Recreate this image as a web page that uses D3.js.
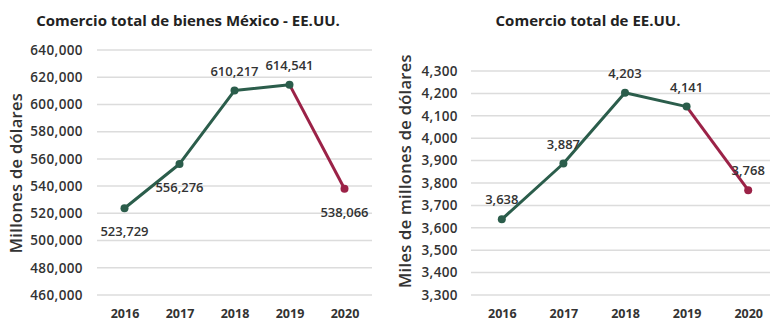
<!DOCTYPE html>
<html>
<head>
<meta charset="utf-8">
<script src="https://cdn.jsdelivr.net/npm/d3@7"></script>
<style>
  html, body { margin: 0; padding: 0; background: #fff; }
  svg { display: block; font-family: "Open Sans", "Noto Sans", sans-serif; }
</style>
</head>
<body>
<svg id="chart" width="770" height="321"></svg>
<script>
// Años y series
const years = ["2016", "2017", "2018", "2019", "2020"];
const mexUsTrade = [523729, 556276, 610217, 614541, 538066];
const usTrade = [3638, 3887, 4203, 4141, 3768];

// Marcas del eje Y
const mexTicks = [460000, 480000, 500000, 520000, 540000, 560000, 580000, 600000, 620000, 640000];
const usTicks = [3300, 3400, 3500, 3600, 3700, 3800, 3900, 4000, 4100, 4200, 4300];

// Posición de cada etiqueta de valor: arriba (-1) o abajo (+1) del punto
const mexLabelSide = [1, 1, -1, -1, 1];
const usLabelSide = [-1, -1, -1, -1, -1];

const GREEN = "#2b5d4b";
const RED = "#9b2247";
const fmt = d3.format(",");

const svg = d3.select("#chart");

function drawPanel(cfg) {
  const g = svg.append("g");
  const x = d3.scalePoint().domain(years).range([cfg.x0, cfg.x1]).padding(0.5);
  const y = d3.scaleLinear().domain(cfg.domain).range([cfg.yBottom, cfg.yTop]);

  // Título
  g.append("text")
    .attr("x", cfg.titleX).attr("y", 26)
    .attr("text-anchor", "middle")
    .attr("font-size", 15).attr("font-weight", 700).attr("fill", "#222")
    .text(cfg.title);

  // Rejilla horizontal
  g.selectAll(".grid").data(cfg.ticks).join("line")
    .attr("x1", cfg.x0).attr("x2", cfg.x1)
    .attr("y1", d => y(d)).attr("y2", d => y(d))
    .attr("stroke", "#dcdcdc").attr("stroke-width", 1.5);

  // Eje Y
  const yAxis = d3.axisLeft(y).tickValues(cfg.ticks).tickFormat(fmt).tickSize(0).tickPadding(0);
  const ya = g.append("g").attr("transform", `translate(${cfg.x0 - cfg.tickGap},0)`).call(yAxis);
  ya.select(".domain").remove();
  ya.selectAll("text")
    .attr("font-size", 13.5).attr("font-weight", 600).attr("fill", "#333")
    .attr("font-family", "'Open Sans', sans-serif").attr("letter-spacing", 0.4);

  // Eje X
  const xAxis = d3.axisBottom(x).tickSize(0).tickPadding(0);
  const xa = g.append("g").attr("transform", `translate(0,${cfg.xAxisY})`).call(xAxis);
  xa.select(".domain").remove();
  xa.selectAll("text")
    .attr("font-size", 12.5).attr("font-weight", 700).attr("fill", "#333")
    .attr("font-family", "'Open Sans', sans-serif").attr("dy", 0);

  // Título del eje Y
  g.append("text")
    .attr("transform", `translate(${cfg.yLabelX},${cfg.yLabelY}) rotate(-90)`)
    .attr("text-anchor", "middle")
    .attr("font-size", 16.5).attr("font-weight", 600).attr("fill", "#333")
    .attr("letter-spacing", 0.3)
    .text(cfg.yLabel);

  const pts = years.map((yr, i) => ({ yr, v: cfg.values[i], side: cfg.side[i] }));
  const line = d3.line().x(d => x(d.yr)).y(d => y(d.v));

  // Tramo verde 2016-2019 y tramo guinda 2019-2020
  g.append("path").datum(pts.slice(0, 4)).attr("d", line)
    .attr("fill", "none").attr("stroke", GREEN).attr("stroke-width", 3).attr("stroke-linejoin", "round");
  g.append("path").datum(pts.slice(3)).attr("d", line)
    .attr("fill", "none").attr("stroke", RED).attr("stroke-width", 3);

  g.selectAll(".pt").data(pts).join("circle")
    .attr("cx", d => x(d.yr)).attr("cy", d => y(d.v)).attr("r", 4)
    .attr("fill", (d, i) => i === 4 ? RED : GREEN);

  // Etiquetas de valor
  g.selectAll(".lbl").data(pts).join("text")
    .attr("x", d => x(d.yr))
    .attr("y", d => y(d.v) + (d.side > 0 ? 28 : -15))
    .attr("text-anchor", "middle")
    .attr("font-size", 13).attr("font-weight", 600).attr("fill", "#333")
    .text(d => fmt(d.v));
}

drawPanel({
  title: "Comercio total de bienes México - EE.UU.",
  titleX: 188,
  x0: 97, x1: 372,
  domain: [460000, 640000], yBottom: 295, yTop: 50,
  ticks: mexTicks,
  tickGap: 14,
  xAxisY: 318,
  yLabel: "Millones de dólares", yLabelX: 22, yLabelY: 173,
  values: mexUsTrade, side: mexLabelSide
});

drawPanel({
  title: "Comercio total de EE.UU.",
  titleX: 588,
  x0: 471, x1: 779,
  domain: [3300, 4300], yBottom: 295, yTop: 71,
  ticks: usTicks,
  tickGap: 13,
  xAxisY: 318,
  yLabel: "Miles de millones de dólares", yLabelX: 411, yLabelY: 171,
  values: usTrade, side: usLabelSide
});
</script>
</body>
</html>
